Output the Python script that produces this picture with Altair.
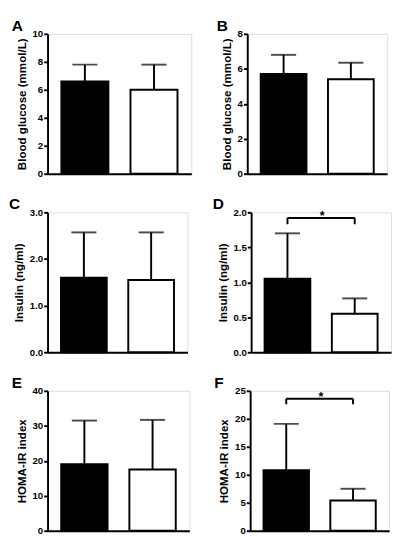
import altair as alt
import pandas as pd

groups = ["Group 1", "Group 2"]
bar_fills = ["black", "white"]

letters = ["A", "B", "C", "D", "E", "F"]
y_titles = ["Blood glucose  (mmol/L)", "Blood glucose  (mmol/L)",
            "Insulin (ng/ml)", "Insulin (ng/ml)",
            "HOMA-IR index", "HOMA-IR index"]
means = [[6.6, 6.0], [5.7, 5.4], [1.6, 1.55], [1.05, 0.55], [19.0, 17.5], [10.8, 5.4]]
uppers = [[7.8, 7.8], [6.8, 6.35], [2.57, 2.57], [1.7, 0.77], [31.5, 31.7], [19.1, 7.5]]
y_max = [10, 8, 3.0, 2.0, 40, 25]
y_ticks = [[0, 2, 4, 6, 8, 10], [0, 2, 4, 6, 8], [0, 1, 2, 3], [0, 0.5, 1.0, 1.5, 2.0],
           [0, 10, 20, 30, 40], [0, 5, 10, 15, 20, 25]]
y_formats = ["d", "d", ".1f", ".1f", "d", "d"]
brackets = {3: (1.92, 1.83), 5: (23.6, 22.6)}
star_label = "*"

widths = [149, 145, 145, 145, 147, 144]
FONT = "Liberation Sans"


def panel(i):
    df = pd.DataFrame({"group": groups, "mean": means[i], "upper": uppers[i], "fill": bar_fills})
    xaxis = alt.Axis(labels=False, ticks=False, title=None, domainWidth=2, domainColor="black",
                     minExtent=0, maxExtent=0, labelPadding=0, offset=0)
    xscale = alt.Scale(paddingInner=0.32, paddingOuter=0.2)
    yscale = alt.Scale(domain=[0, y_max[i]], nice=False, zero=True)
    yaxis = alt.Axis(values=y_ticks[i], format=y_formats[i], title=y_titles[i], grid=False,
                     labelOverlap=False, labelFlush=False, minExtent=0,
                     domainWidth=2, domainColor="black", tickWidth=2, tickColor="black",
                     tickSize=4, labelFont=FONT, labelFontWeight="bold", labelFontSize=10,
                     labelColor="black", labelPadding=1, titleFont=FONT, titleFontWeight="bold",
                     titleFontSize=12, titleColor="black", titlePadding=4)

    def X(field):
        return alt.X(field, sort=groups, scale=xscale, axis=xaxis)

    def Y(field):
        return alt.Y(field, scale=yscale, axis=yaxis)

    err = alt.Chart(df).mark_rule(color="black", strokeWidth=2).encode(
        x=X("group:N"), y=Y("mean:Q"), y2="upper:Q")
    cap = alt.Chart(df).mark_tick(color="black", thickness=2, size=26).encode(
        x=X("group:N"), y=Y("upper:Q"))
    bars = alt.Chart(df).mark_bar(stroke="black", strokeWidth=2).encode(
        x=X("group:N"), y=Y("mean:Q"), fill=alt.Fill("fill:N", scale=None))
    layers = [err, cap, bars]
    if i in brackets:
        top, low = brackets[i]
        bdf = pd.DataFrame({"g1": [groups[0]], "g2": [groups[1]], "y": [top], "star": [star_label]})
        edf = pd.DataFrame({"group": groups, "y": [top, top], "y2": [low, low]})
        layers.append(alt.Chart(bdf).mark_rule(color="black", strokeWidth=2).encode(
            x=X("g1:N"), x2="g2:N", y=Y("y:Q")))
        layers.append(alt.Chart(edf).mark_rule(color="black", strokeWidth=2).encode(
            x=X("group:N"), y=Y("y:Q"), y2="y2:Q"))
        layers.append(alt.Chart(bdf).mark_text(font=FONT, fontWeight="bold", fontSize=13,
                                               baseline="alphabetic", dx=36, dy=2, color="black").encode(
            x=X("g1:N"), y=Y("y:Q"), text="star:N"))
    return alt.layer(*layers).properties(
        width=widths[i], height=145,
        title=alt.TitleParams(text=letters[i], anchor="start", font=FONT, fontSize=16,
                              fontWeight="bold", color="black", offset=-5, dx=-4))


rows = [alt.hconcat(panel(2 * r), panel(2 * r + 1), spacing=24) for r in range(3)]
chart = alt.vconcat(*rows, spacing=17).properties(padding=0).configure_view(
    stroke=None).configure(background="white")

chart.save("out.html", embed_options={"renderer": "svg", "actions": False})
